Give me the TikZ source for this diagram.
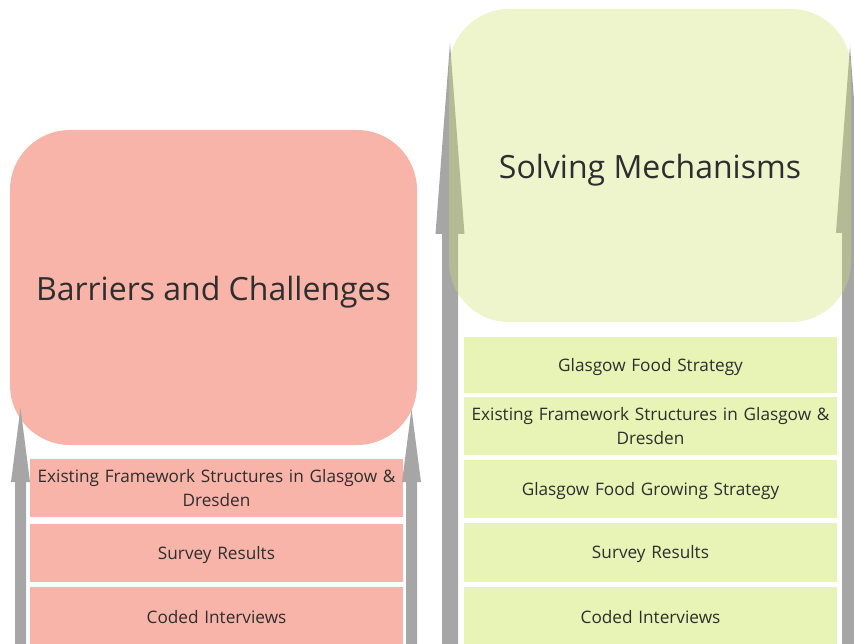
\documentclass[tikz,border=0pt]{standalone}
\usepackage{fontspec}
\setmainfont{Open Sans}
\definecolor{pinkbox}{HTML}{F8B4A8}
\definecolor{greenbig}{HTML}{CFE270}
\definecolor{greenbox}{HTML}{E8F3B6}
\definecolor{arrowgray}{HTML}{A6A6A6}
\definecolor{txt}{HTML}{2E2E2E}
\tikzset{
  bigbox/.style={rounded corners=60pt, inner sep=0pt},
  title/.style={text=txt, font=\fontsize{32}{38}\selectfont},
  item/.style={inner sep=0pt, text=txt, align=center, text width=370pt, font=\fontsize{17.2}{24}\selectfont},
  arrowshape/.style={fill=arrowgray}
}
\begin{document}
\begin{tikzpicture}[x=1pt,y=-1pt]
\useasboundingbox (0,0) rectangle (854,644);
% right column arrows (under translucent box)
\fill[arrowshape] (442,650) -- (442,234) -- (435.5,234) -- (450,43) -- (464.5,234) -- (458,234) -- (458,650) -- cycle;
\fill[arrowshape] (842,650) -- (842,233) -- (836,233) -- (850,46) -- (864,233) -- (858,233) -- (858,650) -- cycle;
% right big box
\node[bigbox, fill=greenbig, fill opacity=0.35, minimum width=402pt, minimum height=313pt] (sm) at (650,165.5) {};
\node[title] (smt) at (650,170) {Solving Mechanisms};
% right boxes
\fill[greenbox] (464,337) rectangle (837,393) node[midway, yshift=-2pt, item] (g1) {Glasgow Food Strategy};
\fill[greenbox] (464,397) rectangle (837,455) node[midway, item] (g2) {Existing Framework Structures in Glasgow \&\\Dresden};
\fill[greenbox] (464,460) rectangle (837,518) node[midway, yshift=-2pt, item] (g3) {Glasgow Food Growing Strategy};
\fill[greenbox] (464,523) rectangle (837,582) node[midway, yshift=-2pt, item] (g4) {Survey Results};
\fill[greenbox] (464,587) rectangle (837,646) node[midway, yshift=-1pt, item] (g5) {Coded Interviews};
% left big box
\node[bigbox, fill=pinkbox, minimum width=407pt, minimum height=315pt] (bc) at (213.5,287.5) {};
\node[title] (bct) at (213.5,292) {Barriers and Challenges};
% left boxes
\fill[pinkbox] (30,459) rectangle (403,517) node[midway, item] (p1) {Existing Framework Structures in Glasgow \&\\Dresden};
\fill[pinkbox] (30,524) rectangle (403,582) node[midway, yshift=-2pt, item] (p2) {Survey Results};
\fill[pinkbox] (30,587) rectangle (403,646) node[midway, yshift=-1pt, item] (p3) {Coded Interviews};
% left arrows (on top)
\fill[arrowshape] (15,650) -- (15,482) -- (11,482) -- (20.5,408) -- (30,482) -- (26,482) -- (26,650) -- cycle;
\fill[arrowshape] (406,650) -- (406,482) -- (402,482) -- (411.5,409) -- (421,482) -- (417,482) -- (417,650) -- cycle;
\end{tikzpicture}
\end{document}
